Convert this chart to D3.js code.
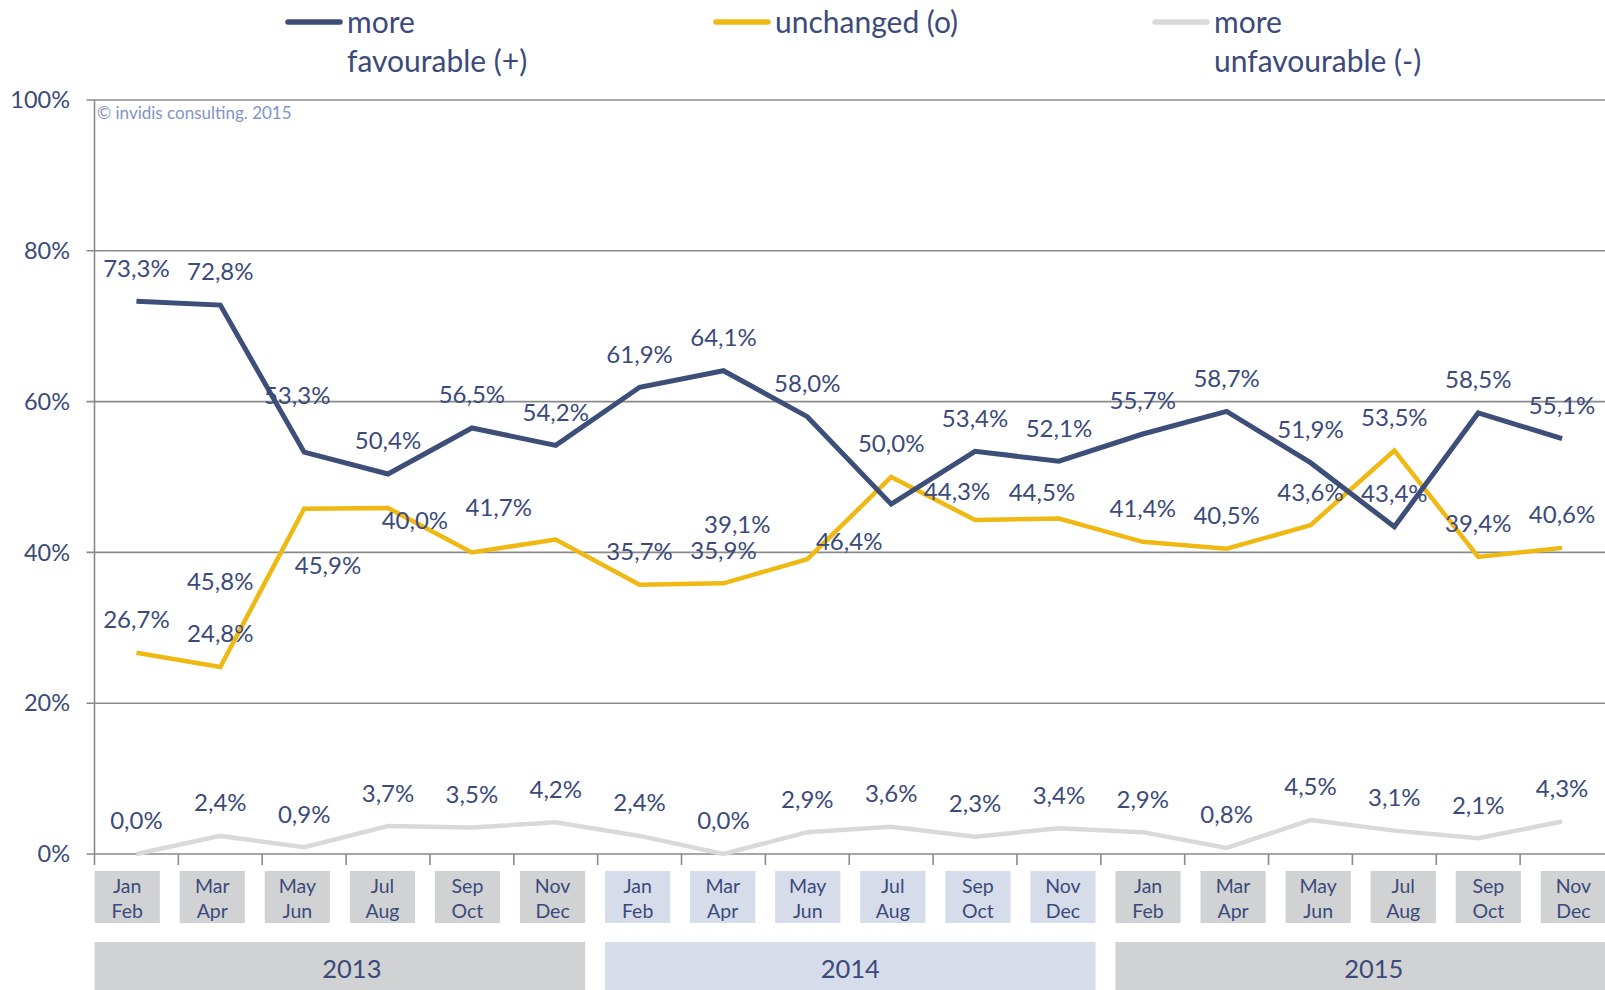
<!DOCTYPE html>
<html>
<head>
<meta charset="utf-8">
<script src="https://cdn.jsdelivr.net/npm/d3@7"></script>
<style>
  html, body { margin: 0; padding: 0; background: #fff; }
  svg { display: block; font-family: Lato, "Noto Sans", sans-serif; }
</style>
</head>
<body>
<svg width="1605" height="990"></svg>
<script>
// data
const months = [['Jan','Feb'],['Mar','Apr'],['May','Jun'],['Jul','Aug'],['Sep','Oct'],['Nov','Dec']];
const years = ['2013', '2014', '2015'];
const favourable   = [73.3, 72.8, 53.3, 50.4, 56.5, 54.2, 61.9, 64.1, 58.0, 46.4, 53.4, 52.1, 55.7, 58.7, 51.9, 43.4, 58.5, 55.1];
const unchanged    = [26.7, 24.8, 45.8, 45.9, 40.0, 41.7, 35.7, 35.9, 39.1, 50.0, 44.3, 44.5, 41.4, 40.5, 43.6, 53.5, 39.4, 40.6];
const unfavourable = [0.0, 2.4, 0.9, 3.7, 3.5, 4.2, 2.4, 0.0, 2.9, 3.6, 2.3, 3.4, 2.9, 0.8, 4.5, 3.1, 2.1, 4.3];
const yTicks = [0, 20, 40, 60, 80, 100];
const seriesNames = [['more', 'favourable (+)'], ['unchanged (o)'], ['more', 'unfavourable (-)']];

// labels that Excel moved away from the default "above" spot (series, index, dx, dy)
const labelShift = [
  [0, 2, -7, -24], [0, 9, -42, 70],
  [1, 2, -84, 106], [1, 3, -60, 91], [1, 4, -57, 1], [1, 5, -57, 1],
  [1, 8, -70, -2], [1, 10, -18, 5], [1, 11, -17, 7]
];
// year captions are not quite centred in their cells
const yearTextShift = [12, 0, 13];

const colors = ['#3d4e78', '#efb812', '#d9d9d9'];
const textColor = '#3b4a7a';
const series = [favourable, unchanged, unfavourable];

const svg = d3.select('svg');
const left = 94.5, right = 1604;
const idx = d3.range(favourable.length);

const x = d3.scaleBand().domain(idx).range([left, right]);
const y = d3.scaleLinear().domain([0, 100]).range([854, 100]);
const cx = i => x(i) + x.bandwidth() / 2;

// gridlines + y labels
svg.append('g').selectAll('line').data(yTicks).enter().append('line')
  .attr('x1', left - 8).attr('x2', 1605)
  .attr('y1', d => y(d)).attr('y2', d => y(d))
  .attr('stroke', '#8a8a8a').attr('stroke-width', 1.6);
svg.append('g').selectAll('text').data(yTicks).enter().append('text')
  .attr('x', 70).attr('y', d => y(d)).attr('dy', '0.35em')
  .attr('text-anchor', 'end').attr('fill', textColor).style('font-size', '23.5px')
  .text(d => d + '%');

// y axis line and x ticks
svg.append('line').attr('x1', left).attr('x2', left).attr('y1', y(100)).attr('y2', y(0) + 11)
  .attr('stroke', '#8a8a8a').attr('stroke-width', 1.6);
svg.append('g').selectAll('line').data(idx.slice(1)).enter().append('line')
  .attr('x1', d => x(d)).attr('x2', d => x(d))
  .attr('y1', y(0)).attr('y2', y(0) + 11)
  .attr('stroke', '#8a8a8a').attr('stroke-width', 1.6);

// copyright
svg.append('text').attr('x', 97).attr('y', 113).attr('dy', '0.35em')
  .attr('fill', '#8393c6').style('font-size', '17px').text('© invidis consulting. 2015');

// lines
const line = d3.line().x((d, i) => cx(i)).y(d => y(d));
[2, 1, 0].forEach(s => {
  svg.append('path').datum(series[s]).attr('d', line)
    .attr('fill', 'none').attr('stroke', colors[s])
    .attr('stroke-width', s == 0 ? 5 : 4.5).attr('stroke-linejoin', 'miter');
});

// data labels
const fmt = v => v.toFixed(1).replace('.', ',') + '%';
series.forEach((vals, s) => {
  svg.append('g').selectAll('text').data(vals).enter().append('text')
    .attr('x', (d, i) => {
      const sh = labelShift.find(l => l[0] == s && l[1] == i);
      return cx(i) + (sh ? sh[2] : 0);
    })
    .attr('y', (d, i) => {
      const sh = labelShift.find(l => l[0] == s && l[1] == i);
      return y(d) - 33 + (sh ? sh[3] : 0);
    })
    .attr('dy', '0.35em').attr('text-anchor', 'middle')
    .attr('fill', textColor).style('font-size', '24px')
    .text(fmt);
});

// category table under the axis
const boxStep = 85.07, boxW = 65.2;
const bx = d3.scaleLinear().domain([0, 1]).range([94.6, 94.6 + boxStep]);
const boxFill = ['#d1d2d4', '#d6dcea', '#d1d2d4'];
const cells = idx.map(i => ({ i: i, year: Math.floor(i / months.length), m: months[i % months.length] }));
const cg = svg.append('g').selectAll('g').data(cells).enter().append('g');
cg.append('rect').attr('x', d => bx(d.i)).attr('y', 871).attr('width', boxW).attr('height', 52)
  .attr('fill', d => boxFill[d.year]);
cg.append('text').attr('x', d => bx(d.i) + boxW / 2).attr('y', 886).attr('dy', '0.35em')
  .attr('text-anchor', 'middle').attr('fill', textColor).style('font-size', '19.5px').text(d => d.m[0]);
cg.append('text').attr('x', d => bx(d.i) + boxW / 2).attr('y', 911).attr('dy', '0.35em')
  .attr('text-anchor', 'middle').attr('fill', textColor).style('font-size', '19.5px').text(d => d.m[1]);

const yg = svg.append('g').selectAll('g').data(years).enter().append('g');
const yearX = (k) => bx(k * months.length);
const yearW = (months.length - 1) * boxStep + boxW;
yg.append('rect').attr('x', (d, k) => yearX(k)).attr('y', 942).attr('width', yearW).attr('height', 60)
  .attr('fill', (d, k) => boxFill[k]);
yg.append('text').attr('x', (d, k) => yearX(k) + yearW / 2 + yearTextShift[k]).attr('y', 969).attr('dy', '0.35em')
  .attr('text-anchor', 'middle').attr('fill', textColor).style('font-size', '25.5px').text(d => d);

// legend
const legX = [288, 716, 1155];
seriesNames.forEach((names, s) => {
  const g = svg.append('g');
  g.append('line').attr('x1', legX[s]).attr('x2', legX[s] + 52).attr('y1', 22).attr('y2', 22)
    .attr('stroke', colors[s]).attr('stroke-width', 5.5).attr('stroke-linecap', 'round');
  names.forEach((t, k) => {
    g.append('text').attr('x', legX[s] + 59).attr('y', 22 + k * 39).attr('dy', '0.35em')
      .attr('fill', textColor).style('font-size', '30px').text(t);
  });
});
</script>
</body>
</html>
